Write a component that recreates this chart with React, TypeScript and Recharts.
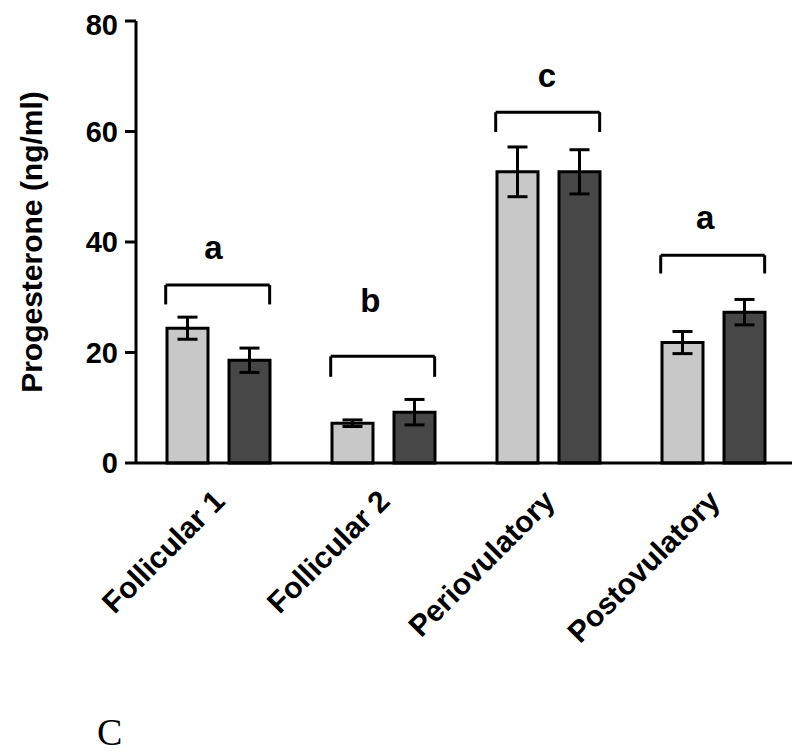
import { Bar, BarChart, ErrorBar, ReferenceDot, ReferenceLine, XAxis, YAxis } from "recharts"

const phases = ["Follicular 1", "Follicular 2", "Periovulatory", "Postovulatory"]
const lightMean = [24.4, 7.2, 52.7, 21.8]
const lightErr = [2.0, 0.6, 4.5, 2.0]
const darkMean = [18.6, 9.2, 52.7, 27.3]
const darkErr = [2.2, 2.3, 4.0, 2.3]
const yTicks = [0, 20, 40, 60, 80]

// significance brackets over each phase (x in group units, 0 = group centre)
const bracketTop = [32.2, 19.3, 63.5, 37.6]
const bracketFoot = [28.7, 15.6, 59.9, 34.3]
const groupLetters = ["a", "b", "c", "a"]
const letterShift = [-0.03, -0.08, -0.01, -0.05]
const letterY = [37.0, 27.3, 68.0, 42.4]

const data = phases.map((name, i) => ({
  name,
  slot: i,
  light: lightMean[i],
  lightErr: lightErr[i],
  dark: darkMean[i],
  darkErr: darkErr[i],
}))

const font = "'Liberation Sans', Arial, Helvetica, sans-serif"

const PhaseTick = (props: any) => {
  const { x, y, payload } = props
  const tx = x + 8
  const ty = y + 40
  return (
    <text
      x={tx}
      y={ty}
      transform={`rotate(-45 ${tx} ${ty})`}
      textAnchor="end"
      fontFamily={font}
      fontWeight={700}
      fontSize={30}
      fill="#000"
    >
      {payload.value}
    </text>
  )
}

const Letter = (text: string) => (props: any) => (
  <text
    x={props.cx}
    y={props.cy}
    textAnchor="middle"
    fontFamily={font}
    fontWeight={700}
    fontSize={33}
    fill="#000"
  >
    {text}
  </text>
)

export default function App() {
  const brackets: any[] = []
  bracketTop.forEach((top, i) => {
    const x0 = i - 0.32
    const x1 = i + 0.31
    brackets.push(
      <ReferenceLine
        key={`l${i}`}
        xAxisId="n"
        ifOverflow="visible"
        segment={[
          { x: x0, y: bracketFoot[i] },
          { x: x0, y: top },
        ]}
        stroke="#000"
        strokeWidth={3}
      />,
      <ReferenceLine
        key={`t${i}`}
        xAxisId="n"
        ifOverflow="visible"
        segment={[
          { x: x0, y: top },
          { x: x1, y: top },
        ]}
        stroke="#000"
        strokeWidth={3}
      />,
      <ReferenceLine
        key={`r${i}`}
        xAxisId="n"
        ifOverflow="visible"
        segment={[
          { x: x1, y: top },
          { x: x1, y: bracketFoot[i] },
        ]}
        stroke="#000"
        strokeWidth={3}
      />,
      <ReferenceDot
        key={`d${i}`}
        xAxisId="n"
        ifOverflow="visible"
        x={i + letterShift[i]}
        y={letterY[i]}
        r={0}
        shape={Letter(groupLetters[i])}
      />
    )
  })

  return (
    <div>
      <BarChart
        width={792}
        height={700}
        data={data}
        margin={{ top: 13, right: 4, bottom: 45, left: 0 }}
        barGap={21}
      >
        <XAxis
          dataKey="name"
          axisLine={{ stroke: "#000", strokeWidth: 3 }}
          tickLine={false}
          tickSize={0}
          tickMargin={0}
          height={200}
          interval={0}
          tick={<PhaseTick />}
        />
        <XAxis xAxisId="n" dataKey="slot" type="number" domain={[-0.5, 3.5]} allowDataOverflow hide />
        <YAxis
          width={128}
          domain={[0, 80]}
          ticks={yTicks}
          axisLine={{ stroke: "#000", strokeWidth: 3 }}
          tickLine={{ stroke: "#000", strokeWidth: 3 }}
          tickSize={11}
          tickMargin={7}
          tick={{ fill: "#000", fontSize: 29, fontWeight: 700, fontFamily: font }}
          label={{
            value: "Progesterone (ng/ml)",
            angle: -90,
            position: "insideLeft",
            offset: 23,
            style: { textAnchor: "middle", fontSize: 30, fontWeight: 700, fontFamily: font, fill: "#000" },
          }}
        />
        <Bar dataKey="light" fill="#c8c8c8" stroke="#000" strokeWidth={3} barSize={41} isAnimationActive={false}>
          <ErrorBar dataKey="lightErr" width={10} stroke="#000" strokeWidth={3} isAnimationActive={false} />
        </Bar>
        <Bar dataKey="dark" fill="#474747" stroke="#000" strokeWidth={3} barSize={41} isAnimationActive={false}>
          <ErrorBar dataKey="darkErr" width={10} stroke="#000" strokeWidth={3} isAnimationActive={false} />
        </Bar>
        {brackets}
      </BarChart>
      <div
        style={{
          position: "absolute",
          left: 97,
          top: 717,
          fontFamily: "'Liberation Serif', 'Times New Roman', serif",
          fontSize: 38,
          lineHeight: "30px",
        }}
      >
        C
      </div>
    </div>
  )
}
